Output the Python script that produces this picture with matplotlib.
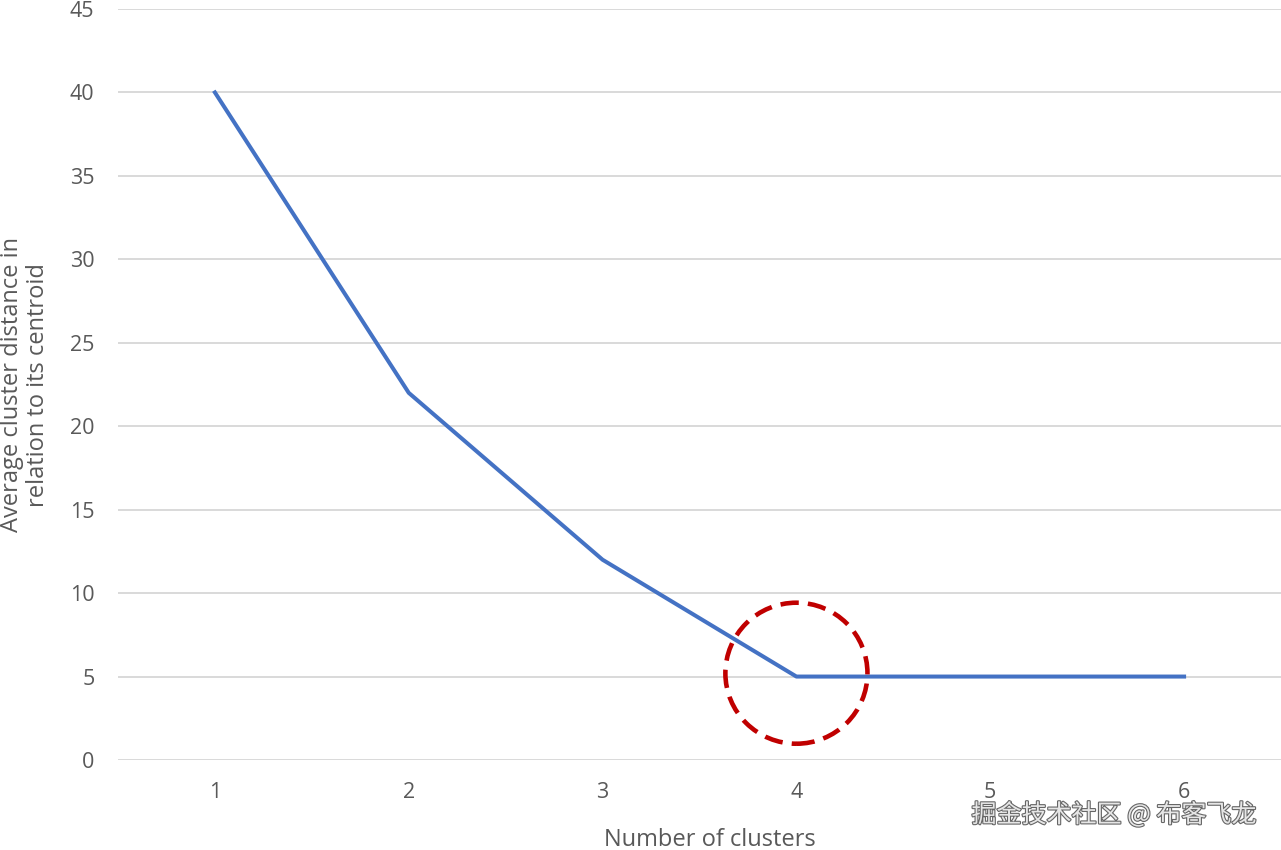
import matplotlib.pyplot as plt
from matplotlib.patches import Ellipse
import matplotlib.patheffects as pe

# Datos de la grafica
clusters = [1, 2, 3, 4, 5, 6]
avg_distance = [40, 22, 12, 5, 5, 5]
y_ticks = [0, 5, 10, 15, 20, 25, 30, 35, 40, 45]
elbow_k = 4
elbow_value = 5

plt.rcParams['font.family'] = ['Open Sans', 'DejaVu Sans']
gray = '#595959'

fig = plt.figure(figsize=(12.81, 8.5), dpi=100)
ax = fig.add_axes([118 / 1281, 90 / 850, 1163 / 1281, 751 / 850])

ax.plot(clusters, avg_distance, color='#4472C4', linewidth=2.9, zorder=3)

# circulo discontinuo alrededor del codo
circle = Ellipse((elbow_k, elbow_value + 0.2), width=0.733, height=8.45,
                 fill=False, edgecolor='#C00000', linewidth=3.3,
                 linestyle=(0, (4.0, 2.0)), zorder=4)
ax.add_patch(circle)

ax.set_xlim(0.5, 6.5)
ax.set_ylim(0, 45)
ax.set_xticks(clusters)
ax.set_yticks(y_ticks)
ax.yaxis.grid(True, color='#D9D9D9', linewidth=1.4)
ax.set_axisbelow(True)
for s in ax.spines.values():
    s.set_visible(False)
ax.tick_params(axis='both', length=0, labelsize=15.5, labelcolor=gray)
ax.tick_params(axis='y', pad=17)
ax.tick_params(axis='x', pad=16)

fig.text(710 / 1281, 1 - 840 / 850, 'Number of clusters', ha='center', va='center',
         fontsize=17, color=gray)
fig.text(25 / 1281, 1 - 385 / 850, 'Average cluster distance in\nrelation to its centroid',
         ha='center', va='center', rotation=90, fontsize=17, color=gray,
         linespacing=1.1)

# marca de agua
fig.text(1114 / 1281, 1 - 815 / 850, '掘金技术社区 @ 布客飞龙', ha='center', va='center',
         fontsize=18, color='#e6e6e6', family=['Noto Sans CJK SC', 'DejaVu Sans'],
         path_effects=[pe.withStroke(linewidth=1.6, foreground='#666666')])

plt.savefig('out.png', dpi=100)
